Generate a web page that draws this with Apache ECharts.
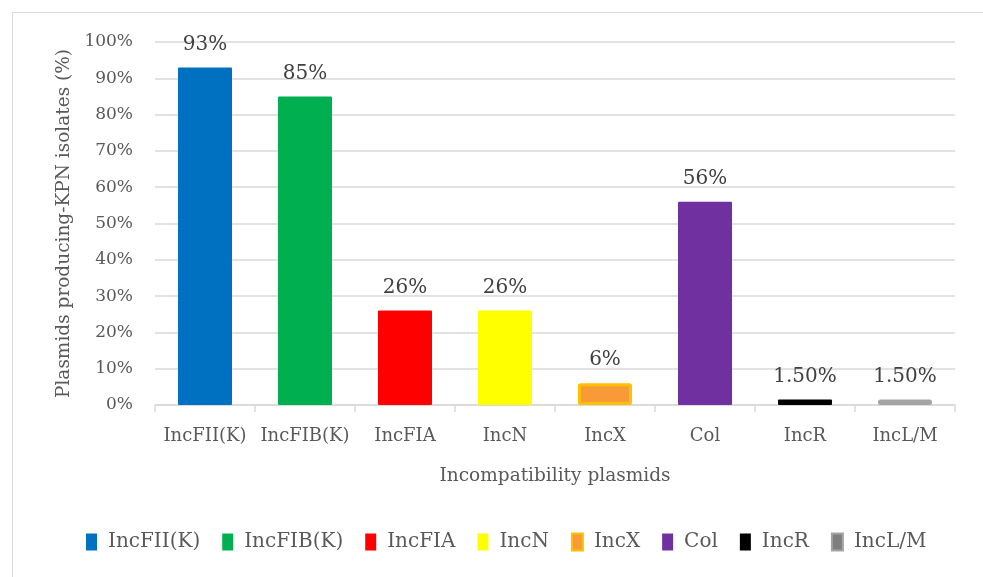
<!DOCTYPE html>
<html>
<head>
<meta charset="utf-8">
<script src="https://cdn.jsdelivr.net/npm/echarts@6/dist/echarts.min.js"></script>
<style>
  html, body { margin: 0; padding: 0; background: #fff; }
  #chart { width: 983px; height: 577px; }
</style>
</head>
<body>
<div id="chart"></div>
<script>
// Incompatibility plasmid groups and their share of isolates (%)
const categories = ['IncFII(K)', 'IncFIB(K)', 'IncFIA', 'IncN', 'IncX', 'Col', 'IncR', 'IncL/M'];
const values = [93, 85, 26, 26, 6, 56, 1.5, 1.5];
const valueLabels = ['93%', '85%', '26%', '26%', '6%', '56%', '1.50%', '1.50%'];
const yTicks = [0, 10, 20, 30, 40, 50, 60, 70, 80, 90, 100];

const fills = ['#0070C0', '#00B050', '#FF0000', '#FFFF00', '#F99A38', '#7030A0', '#000000', '#7F7F7F'];
const borders = [null, null, null, null, '#FFC000', null, null, '#A5A5A5'];

const FONT = '"DejaVu Serif", "Liberation Serif", serif';
const TEXT = '#595959';

// one series per group so each gets its own legend entry; all share a slot
const series = categories.map((name, i) => ({
  name: name,
  type: 'bar',
  barWidth: 54,
  barGap: '-100%',
  data: categories.map((c, j) => (j === i ? values[i] : null)),
  itemStyle: {
    color: fills[i],
    borderColor: borders[i] || fills[i],
    borderWidth: borders[i] ? 3 : 0,
    borderRadius: 1
  },
  label: {
    show: true,
    position: 'top',
    distance: 13,
    formatter: () => valueLabels[i],
    fontFamily: FONT,
    fontSize: 20,
    color: '#404040'
  }
}));

const chart = echarts.init(document.getElementById('chart'), null, { renderer: 'canvas' });
chart.setOption({
  animation: false,
  backgroundColor: '#fff',
  graphic: [{
    type: 'rect',
    shape: { x: 12.5, y: 12.5, width: 1000, height: 600 },
    style: { fill: 'none', stroke: '#D9D9D9', lineWidth: 1 },
    silent: true
  }],
  grid: { left: 155, right: 28, top: 42, bottom: 172 },
  legend: {
    bottom: 20,
    left: 81,
    itemWidth: 11,
    itemHeight: 17,
    itemGap: 22,
    icon: 'rect',
    textStyle: { fontFamily: FONT, fontSize: 20, color: TEXT, padding: [0, 0, 0, 6] },
    data: categories
  },
  xAxis: {
    type: 'category',
    data: categories,
    name: 'Incompatibility plasmids',
    nameLocation: 'middle',
    nameGap: 62,
    nameTextStyle: { fontFamily: FONT, fontSize: 18.5, color: TEXT },
    axisLine: { lineStyle: { color: '#D9D9D9', width: 1.5 } },
    axisTick: { show: true, length: 7, lineStyle: { color: '#D9D9D9', width: 1.5 } },
    axisLabel: { interval: 0, hideOverlap: false, fontFamily: FONT, fontSize: 18, color: TEXT, margin: 22 }
  },
  yAxis: {
    type: 'value',
    min: yTicks[0],
    max: yTicks[yTicks.length - 1],
    interval: 10,
    name: 'Plasmids producing-KPN isolates (%)',
    nameLocation: 'middle',
    nameGap: 81,
    nameTextStyle: { fontFamily: FONT, fontSize: 18.5, color: TEXT },
    axisLine: { show: false },
    axisTick: { show: false },
    splitLine: { lineStyle: { color: '#D9D9D9', width: 1.5 } },
    axisLabel: { fontFamily: FONT, fontSize: 17, color: TEXT, margin: 22, formatter: v => v + '%' }
  },
  series: series
});
</script>
</body>
</html>
